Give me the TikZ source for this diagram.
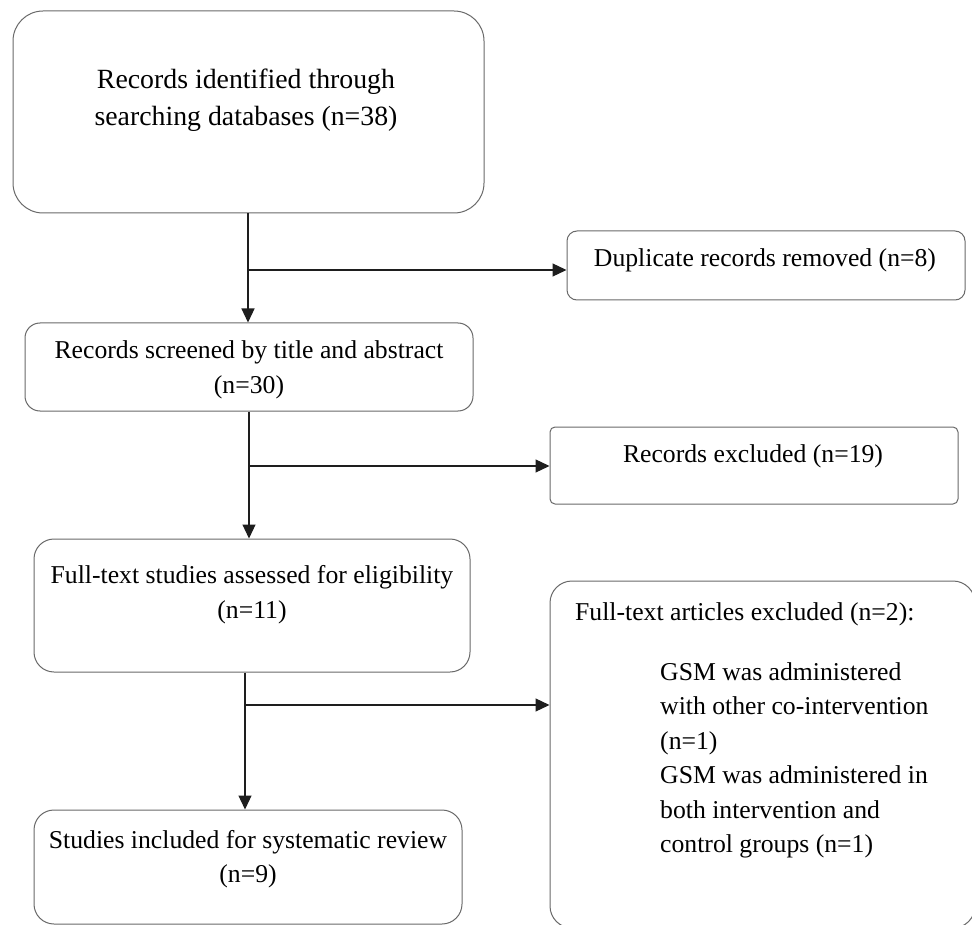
\documentclass[tikz,border=0pt]{standalone}
\usepackage{fontspec}
\setmainfont{Liberation Serif}
\usetikzlibrary{arrows.meta}
\definecolor{boxgray}{RGB}{105,105,105}
\definecolor{linegray}{RGB}{30,30,30}
\begin{document}
\begin{tikzpicture}[x=1pt,y=-1pt,
  box/.style={draw=boxgray, line width=1pt, inner sep=0pt, rectangle},
  txt/.style={font=\fontsize{25.7}{35}\selectfont, inner sep=0pt, anchor=base},
  txtl/.style={txt, anchor=base west},
  big/.style={font=\fontsize{27.8}{37}\selectfont, inner sep=0pt, anchor=base},
  arr/.style={draw=linegray, line width=1.2pt, -{Triangle[length=14pt,width=13pt]}},
  ln/.style={draw=linegray, line width=1.2pt}]
\useasboundingbox (0,0) rectangle (972,925);
\clip (0,0) rectangle (972,925);
\fill[white] (0,0) rectangle (972,925);
% boxes
\node[box, rounded corners=30pt, minimum width=471pt, minimum height=202pt] (b1) at (248.5,112) {};
\node[box, rounded corners=10pt, minimum width=398pt, minimum height=69pt] (b2) at (766,265.5) {};
\node[box, rounded corners=15pt, minimum width=448pt, minimum height=88pt] (b3) at (249,367) {};
\node[box, rounded corners=5pt, minimum width=408pt, minimum height=77pt] (b4) at (754,465.5) {};
\node[box, rounded corners=20pt, minimum width=436pt, minimum height=133pt] (b5) at (252,605.5) {};
\node[box, rounded corners=20pt, minimum width=428pt, minimum height=114pt] (b6) at (248,867) {};
\node[box, rounded corners=22pt, minimum width=425pt, minimum height=347pt] (b7) at (762.5,754.5) {};
% texts
\node[big] (t1a) at (246,89) {Records identified through};
\node[big] (t1b) at (246,126) {searching databases (n=38)};
\node[txt] (t2) at (765,267) {Duplicate records removed (n=8)};
\node[txt] (t3a) at (249,359) {Records screened by title and abstract};
\node[txt] (t3b) at (249,393) {(n=30)};
\node[txt] (t4) at (753,462) {Records excluded (n=19)};
\node[txt] (t5a) at (252,583) {Full-text studies assessed for eligibility};
\node[txt] (t5b) at (252,618) {(n=11)};
\node[txt] (t6a) at (248,848) {Studies included for systematic review};
\node[txt] (t6b) at (248,882) {(n=9)};
\node[txtl] (t7) at (575,620) {Full-text articles excluded (n=2):};
\node[txtl] (t7a) at (660,680) {GSM was administered};
\node[txtl] (t7b) at (660,714.5) {with other co-intervention};
\node[txtl] (t7c) at (660,749) {(n=1)};
\node[txtl] (t7d) at (660,783.5) {GSM was administered in};
\node[txtl] (t7e) at (660,818) {both intervention and};
\node[txtl] (t7f) at (660,852.5) {control groups (n=1)};
% junctions
\coordinate (j1) at (248,270);
\coordinate (j2) at (249,466);
\coordinate (j3) at (245,705);
% connectors
\draw[arr] (j1 |- b1.south) -- (j1 |- b3.north);
\draw[arr] (j1) -- (j1 -| b2.west);
\draw[arr] (j2 |- b3.south) -- (j2 |- b5.north);
\draw[arr] (j2) -- (j2 -| b4.west);
\draw[arr] (j3 |- b5.south) -- (j3 |- b6.north);
\draw[arr] (j3) -- (j3 -| b7.west);
\end{tikzpicture}
\end{document}
